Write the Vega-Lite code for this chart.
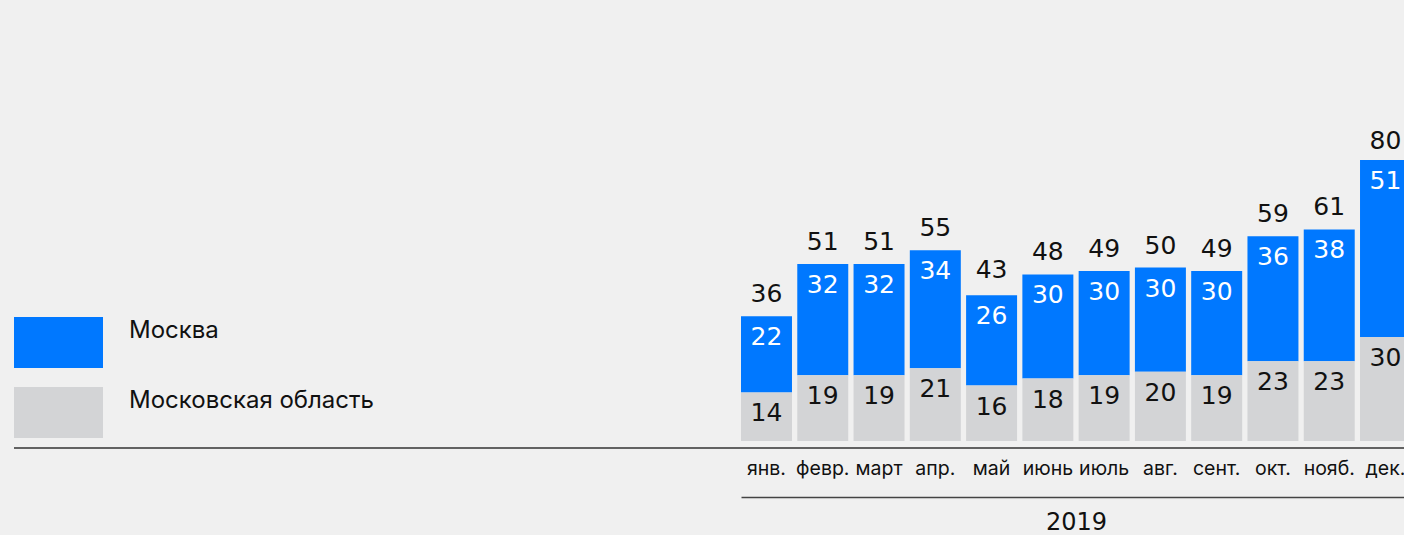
{
  "$schema": "https://vega.github.io/schema/vega-lite/v6.json",
  "width": 1390,
  "height": 448,
  "autosize": {"type": "none"},
  "padding": {"left": 14, "top": 0, "right": 0, "bottom": 87},
  "background": "#f0f0f0",
  "config": {
    "view": {"stroke": "#333333", "strokeWidth": 1.5, "strokeDash": [0, 1838, 1390, 448]},
    "font": "Inter"
  },
  "datasets": {
    "regions": [
      {"month": "янв.", "region": "Москва", "value": 22},
      {"month": "янв.", "region": "Московская область", "value": 14},
      {"month": "февр.", "region": "Москва", "value": 32},
      {"month": "февр.", "region": "Московская область", "value": 19},
      {"month": "март", "region": "Москва", "value": 32},
      {"month": "март", "region": "Московская область", "value": 19},
      {"month": "апр.", "region": "Москва", "value": 34},
      {"month": "апр.", "region": "Московская область", "value": 21},
      {"month": "май", "region": "Москва", "value": 26},
      {"month": "май", "region": "Московская область", "value": 16},
      {"month": "июнь", "region": "Москва", "value": 30},
      {"month": "июнь", "region": "Московская область", "value": 18},
      {"month": "июль", "region": "Москва", "value": 30},
      {"month": "июль", "region": "Московская область", "value": 19},
      {"month": "авг.", "region": "Москва", "value": 30},
      {"month": "авг.", "region": "Московская область", "value": 20},
      {"month": "сент.", "region": "Москва", "value": 30},
      {"month": "сент.", "region": "Московская область", "value": 19},
      {"month": "окт.", "region": "Москва", "value": 36},
      {"month": "окт.", "region": "Московская область", "value": 23},
      {"month": "нояб.", "region": "Москва", "value": 38},
      {"month": "нояб.", "region": "Московская область", "value": 23},
      {"month": "дек.", "region": "Москва", "value": 51},
      {"month": "дек.", "region": "Московская область", "value": 30}
    ],
    "totals": [
      {"month": "янв.", "total": 36},
      {"month": "февр.", "total": 51},
      {"month": "март", "total": 51},
      {"month": "апр.", "total": 55},
      {"month": "май", "total": 43},
      {"month": "июнь", "total": 48},
      {"month": "июль", "total": 49},
      {"month": "авг.", "total": 50},
      {"month": "сент.", "total": 49},
      {"month": "окт.", "total": 59},
      {"month": "нояб.", "total": 61},
      {"month": "дек.", "total": 80}
    ]
  },
  "layer": [
    {
      "data": {"name": "regions"},
      "mark": {"type": "bar"},
      "encoding": {
        "x": {
          "field": "month", "type": "nominal", "sort": null,
          "scale": {"domain": ["янв.", "февр.", "март", "апр.", "май", "июнь", "июль", "авг.", "сент.", "окт.", "нояб.", "дек."], "range": [727, 1397], "paddingInner": 0.094, "paddingOuter": 0},
          "axis": {
            "title": "2019", "orient": "bottom", "offset": 49,
            "domainColor": "#444444", "domainWidth": 1.5,
            "ticks": false, "tickSize": 0,
            "labelPadding": -23, "labelBaseline": "alphabetic", "labelAngle": 0,
            "labelFont": "Inter", "labelFontSize": 19.5, "labelColor": "#111111", "labelOverlap": false,
            "titleFont": "DejaVu Sans", "titleFontSize": 24, "titleFontWeight": "normal", "titleColor": "#111111", "titlePadding": 13
          }
        },
        "y": {"field": "value", "type": "quantitative", "stack": "zero", "scale": {"domain": [-2, 127.1], "nice": false, "zero": false}, "axis": null},
        "color": {
          "field": "region", "type": "nominal",
          "scale": {"domain": ["Москва", "Московская область"], "range": ["#0078ff", "#d3d4d6"]},
          "legend": {
            "orient": "none", "legendX": 0, "legendY": 298, "title": null,
            "symbolType": "M-1,-0.573H1V0.573H-1Z", "symbolSize": 7921, "symbolStrokeWidth": 0, "symbolOpacity": 1,
            "labelFont": "Inter", "labelFontSize": 24, "labelColor": "#111111", "labelOffset": 26, "labelBaseline": "bottom",
            "rowPadding": -17, "padding": 0, "labelLimit": 400
          }
        },
        "order": {"field": "region", "sort": "descending"}
      }
    },
    {
      "data": {"name": "regions"},
      "mark": {"type": "text", "baseline": "alphabetic", "dy": 29, "font": "DejaVu Sans", "fontSize": 25},
      "encoding": {
        "x": {"field": "month", "type": "nominal", "sort": null},
        "y": {"field": "value", "type": "quantitative", "stack": "zero", "scale": {"domain": [-2, 127.1], "nice": false, "zero": false}},
        "detail": {"field": "region"},
        "order": {"field": "region", "sort": "descending"},
        "text": {"field": "value"},
        "color": {"condition": {"test": "datum.region === 'Москва'", "value": "#ffffff"}, "value": "#111111"}
      }
    },
    {
      "data": {"name": "totals"},
      "mark": {"type": "text", "baseline": "alphabetic", "dy": -14, "font": "DejaVu Sans", "fontSize": 25, "color": "#111111"},
      "encoding": {
        "x": {"field": "month", "type": "nominal", "sort": null},
        "y": {"field": "total", "type": "quantitative", "scale": {"domain": [-2, 127.1], "nice": false, "zero": false}},
        "text": {"field": "total"}
      }
    }
  ]
}
